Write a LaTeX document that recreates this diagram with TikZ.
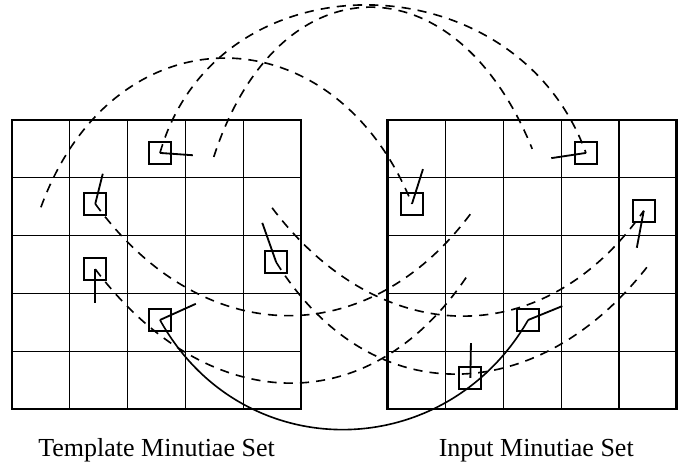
\documentclass[tikz,border=0pt]{standalone}
\usepackage{fontspec}
\setmainfont{Liberation Serif}
\begin{document}
\begin{tikzpicture}[
      minutia/.style = {draw, rectangle, minimum size=3.8mm, inner sep=0pt, line width=0.95pt},
      dirline/.style = {line width=0.9pt},
      track/.style = {line width=0.8pt, dash pattern=on 4.5pt off 3.5pt},
      cell/.style = {line width=0.6pt},
      frame/.style = {line width=1.3pt},
      setlabel/.style = {anchor=base, font=\fontsize{12.8}{15}\selectfont}]
    \useasboundingbox (-0.208,-0.986) rectangle (11.851,7.076);

    % grids
    \foreach \sx in {0,6.5} {
      \draw[cell, xshift=\sx cm] (0,0) grid (5,5);
      \draw[frame, xshift=\sx cm] (0,0) rectangle (5,5);
    }
    \node[setlabel] (tlab) at (2.5,-0.83) {Template Minutiae Set};
    \node[setlabel] (ilab) at (9.07,-0.83) {Input Minutiae Set};

    % template minutiae
    \node[minutia] (t1) at (2.56,4.43) {};
    \node[minutia] (t2) at (1.44,3.55) {};
    \node[minutia] (t3) at (1.44,2.42) {};
    \node[minutia] (t4) at (4.57,2.54) {};
    \node[minutia] (t5) at (2.56,1.54) {};

    % input minutiae
    \node[minutia] (i1) at (9.93,4.43) {};
    \node[minutia] (i2) at (6.92,3.55) {};
    \node[minutia] (i3) at (10.93,3.43) {};
    \node[minutia] (i4) at (8.93,1.54) {};
    \node[minutia] (i5) at (7.93,0.54) {};

    % ridge directions
    \coordinate (t1d) at (3.13,4.39);
    \coordinate (t2d) at (1.57,4.07);
    \coordinate (t3d) at (1.44,1.83);
    \coordinate (t4d) at (4.33,3.22);
    \coordinate (t5d) at (3.18,1.82);
    \coordinate (i1d) at (9.33,4.34);
    \coordinate (i2d) at (7.11,4.15);
    \coordinate (i3d) at (10.81,2.79);
    \coordinate (i4d) at (9.52,1.78);
    \coordinate (i5d) at (7.94,1.14);
    \foreach \m in {t1,t2,t3,t4,t5,i1,i2,i3,i4,i5}
      \draw[dirline] (\m.center) -- (\m d);

    % rotation tracks
    \coordinate (b1) at (3.49,4.36);
    \coordinate (b2) at (9.00,4.50);
    \coordinate (c1) at (0.50,3.49);
    \coordinate (d2) at (7.98,3.44);
    \coordinate (e2) at (7.92,2.37);
    \coordinate (f1) at (4.50,3.48);
    \coordinate (g2) at (10.99,2.46);
    \draw[track] (t1.center) to[out=74, in=110, looseness=1.25] (i1.center);
    \draw[track] (b1) to[out=72, in=112, looseness=1.66] (b2);
    \draw[track] (c1) to[out=70, in=112, looseness=1.45] (i2.center);
    \draw[track] (t2.center) to[out=-54, in=234, looseness=1.21] (d2);
    \draw[track] (t3.center) to[out=-53, in=237, looseness=1.25] (e2);
    \draw[track] (f1) to[out=-53, in=235, looseness=1.21] (i3.center);
    \draw[track] (t4.center) to[out=-58, in=232, looseness=1.23] (g2);

    % matched pair
    \draw[line width=0.8pt] (t5.center) to[out=-61, in=240, looseness=1.17] (i4.center);

  \end{tikzpicture}
\end{document}
